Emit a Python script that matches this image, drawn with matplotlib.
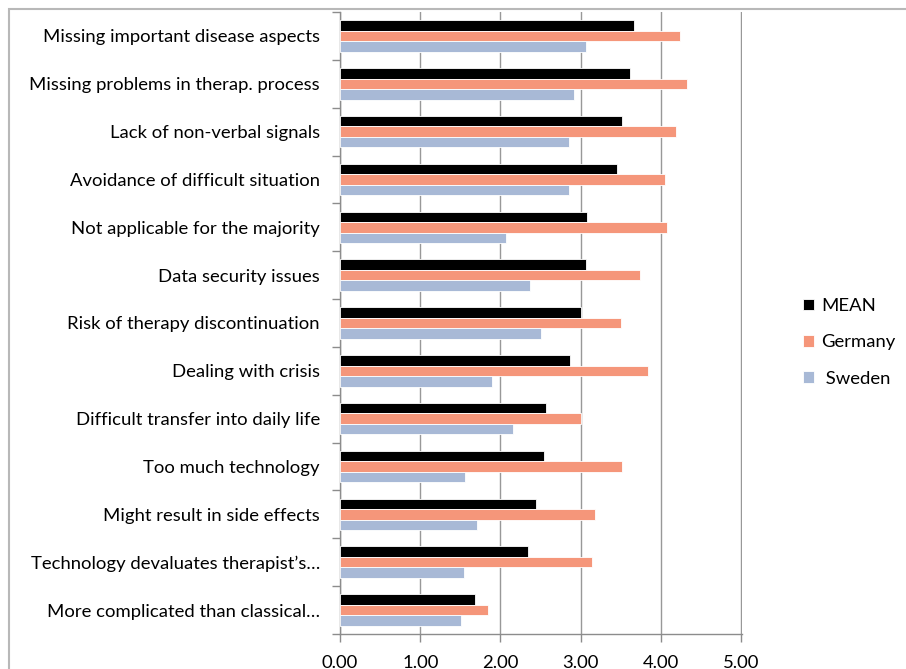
import matplotlib
matplotlib.use("Agg")
import matplotlib.pyplot as plt
from matplotlib.patches import Rectangle
import numpy as np

categories = [
    "Missing important disease aspects",
    "Missing problems in therap. process",
    "Lack of non-verbal signals",
    "Avoidance of difficult situation",
    "Not applicable for the majority",
    "Data security issues",
    "Risk of therapy discontinuation",
    "Dealing with crisis",
    "Difficult transfer into daily life",
    "Too much technology",
    "Might result in side effects",
    "Technology devaluates therapist\u2019s\u2026",
    "More complicated than classical\u2026",
]
mean_vals = [3.66, 3.62, 3.52, 3.45, 3.08, 3.06, 3.00, 2.87, 2.57, 2.54, 2.44, 2.34, 1.68]
germany_vals = [4.24, 4.32, 4.19, 4.05, 4.08, 3.74, 3.50, 3.84, 3.00, 3.51, 3.18, 3.14, 1.85]
sweden_vals = [3.07, 2.92, 2.85, 2.85, 2.07, 2.37, 2.51, 1.90, 2.15, 1.56, 1.71, 1.54, 1.51]
series_names = ["MEAN", "Germany", " Sweden"]
x_ticks = [0, 1, 2, 3, 4, 5]

colors = ["#000000", "#F5967A", "#A8B9D6"]
plt.rcParams["font.family"] = ["Lato", "DejaVu Sans"]
FS = 13.3

fig = plt.figure(figsize=(9.06, 6.69), dpi=100)
ax = fig.add_axes([340 / 906, 1 - 634 / 669, (742 - 340) / 906, (634 - 12) / 669])

y = np.arange(len(categories))
h = 0.22
for k, (vals, col, name) in enumerate(zip([mean_vals, germany_vals, sweden_vals], colors, series_names)):
    ax.barh(y + (k - 1) * h, vals, height=h, color=col, edgecolor="white",
            linewidth=0.6, label=name, zorder=3)

ax.set_xlim(0, 5.01)
ax.set_ylim(len(categories) - 0.5, -0.5)
ax.set_xticks(x_ticks)
ax.set_xticklabels([f"{v:.2f}" for v in x_ticks], fontsize=FS)
ax.set_yticks(y)
ax.set_yticklabels(categories, fontsize=FS)
ax.set_yticks(np.arange(len(categories) + 1) - 0.5, minor=True)
ax.tick_params(axis="y", which="major", length=0, pad=14.5)
ax.tick_params(axis="y", which="minor", length=6, color="#8C8C8C", width=1)
ax.tick_params(axis="x", which="major", length=6, color="#8C8C8C", width=1, pad=9)

ax.grid(axis="x", color="#989898", linewidth=1.0, zorder=0)
for s in ["top", "right"]:
    ax.spines[s].set_visible(False)
for s in ["left", "bottom"]:
    ax.spines[s].set_color("#8C8C8C")
    ax.spines[s].set_linewidth(1.0)

leg = ax.legend(loc="center left", bbox_to_anchor=(1.11, 0.469), frameon=False,
                fontsize=FS, handlelength=0.6, handleheight=0.6,
                handletextpad=0.4, labelspacing=1.1)

# outer chart frame
fig.patches.append(Rectangle((9 / 906, -0.05), 1.0, 1 - 9 / 669 + 0.05,
                             transform=fig.transFigure, fill=False,
                             edgecolor="#B8B8B8", linewidth=1.5))

fig.savefig("out.png", dpi=100)
